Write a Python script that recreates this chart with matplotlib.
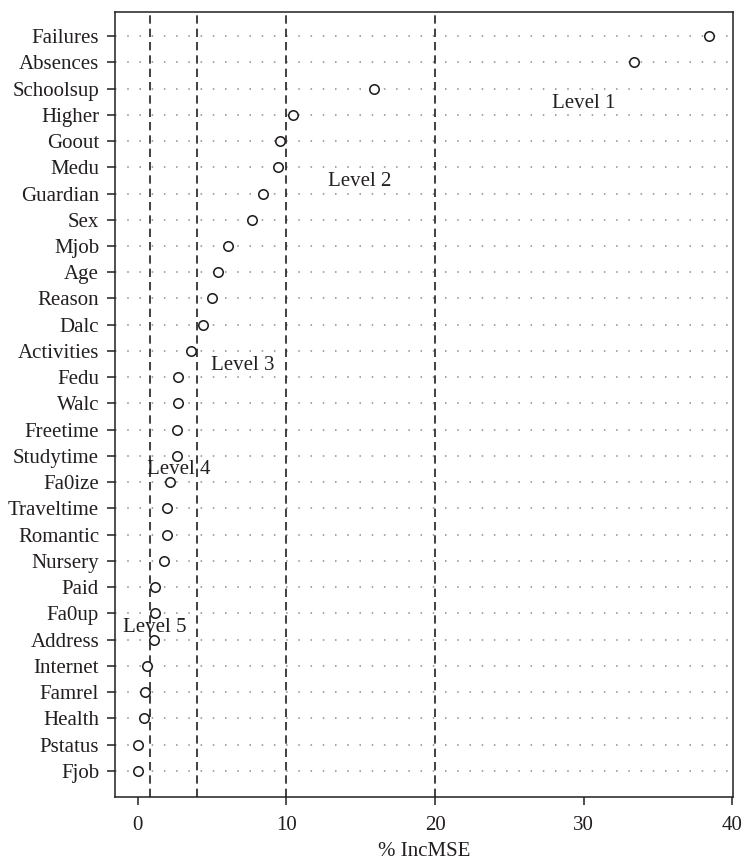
import matplotlib

matplotlib.use("Agg")
import matplotlib.pyplot as plt

plt.rcParams["font.family"] = ["Liberation Serif", "DejaVu Serif"]

# variable importance, top to bottom
variables = [
    "Failures", "Absences", "Schoolsup", "Higher", "Goout", "Medu", "Guardian",
    "Sex", "Mjob", "Age", "Reason", "Dalc", "Activities", "Fedu", "Walc",
    "Freetime", "Studytime", "Fa0ize", "Traveltime", "Romantic", "Nursery",
    "Paid", "Fa0up", "Address", "Internet", "Famrel", "Health", "Pstatus", "Fjob",
]
inc_mse = [
    38.45, 33.42, 15.9, 10.43, 9.53, 9.44, 8.44,
    7.7, 6.09, 5.42, 5.01, 4.41, 3.56, 2.73, 2.73,
    2.6, 2.6, 2.15, 1.97, 1.97, 1.77,
    1.17, 1.12, 1.05, 0.58, 0.47, 0.43, 0.0, 0.0,
]

# level cut-offs and their labels
cutoffs = [0.8, 4.0, 10.0, 20.0]
level_names = ["Level 1", "Level 2", "Level 3", "Level 4", "Level 5"]
level_x = [30.0, 14.9, 7.05, 2.75, 1.15]
level_y = [26.45, 23.45, 16.45, 12.5, 6.45]

n = len(variables)
ypos = list(range(n, 0, -1))
txt = "#231f20"

fig = plt.figure(figsize=(7.44, 8.67), dpi=100)
ax = fig.add_axes([0.1546, 0.0807, 0.8306, 0.9055])

for y in ypos:
    ax.axhline(y, color="#8c8c8c", lw=1.1, linestyle=(0, (1, 7)), zorder=1)

for c in cutoffs:
    ax.axvline(c, color=txt, lw=1.2, linestyle=(0, (5, 3)), zorder=2)

ax.plot(inc_mse, ypos, linestyle="none", marker="o", markersize=6.8,
        markerfacecolor="white", markeredgecolor=txt, markeredgewidth=1.15,
        zorder=3)

for name, x, y in zip(level_names, level_x, level_y):
    ax.text(x, y, name, ha="center", va="center", fontsize=15, color=txt,
            zorder=4)

ax.set_xlim(-1.54, 40.05)
ax.set_ylim(0.0, n + 0.92)
ax.set_xticks([0, 10, 20, 30, 40])
ax.set_yticks(ypos)
ax.set_yticklabels(variables)
ax.tick_params(axis="both", direction="out", length=5.5, width=1.1,
               labelsize=15, colors=txt)
ax.tick_params(axis="y", pad=6)
ax.tick_params(axis="x", pad=8)
ax.set_xlabel("% IncMSE", fontsize=15, labelpad=5, color=txt)

for sp in ax.spines.values():
    sp.set_linewidth(1.1)
    sp.set_color(txt)

fig.savefig("out.png", dpi=100)
